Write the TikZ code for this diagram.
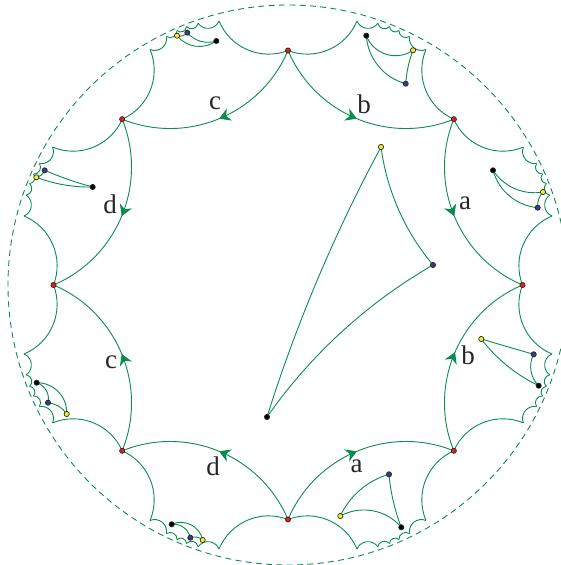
\documentclass[tikz,border=0pt]{standalone}
\usepackage{fontspec}
\setmainfont{Liberation Serif}
\usetikzlibrary{decorations.markings,arrows.meta}
\definecolor{geocol}{RGB}{10,140,80}
\definecolor{dotblue}{RGB}{52,62,140}
\definecolor{dotyellow}{RGB}{250,235,40}
\definecolor{dotred}{RGB}{235,25,40}
\tikzset{
  x=1pt,y=1pt,
  geoline/.style={draw=geocol,line width=0.9pt},
  dotbase/.style={circle,draw=black!85,line width=0.7pt,minimum size=5.2pt,inner sep=0pt},
  reddot/.style={dotbase,fill=dotred},
  blackdot/.style={dotbase,fill=black},
  bluedot/.style={dotbase,fill=dotblue},
  yellowdot/.style={dotbase,fill=dotyellow},
  lab/.style={font=\fontsize{27}{27}\selectfont,text=black!85,inner sep=0pt},
  headat/.style={postaction={decorate},decoration={markings,mark=at position #1 with {\arrow{Stealth[length=11pt,width=13pt,inset=3.5pt,fill=geocol,color=geocol]}}}},
}
% geodesic of the disk (centre 288,280, radius 280) from node #2 to node #3
\newcommand\geo[3][]{%
  \pgfpointanchor{#2}{center}\pgfgetlastxy\gxa\gya
  \pgfpointanchor{#3}{center}\pgfgetlastxy\gxb\gyb
  \pgfmathsetmacro\gpx{(\gxa-288)/280}%
  \pgfmathsetmacro\gpy{(\gya-280)/280}%
  \pgfmathsetmacro\gqx{(\gxb-288)/280}%
  \pgfmathsetmacro\gqy{(\gyb-280)/280}%
  \pgfmathsetmacro\gth{atan2(-(\gpx*\gqy-\gpy*\gqx),1-(\gpx*\gqx+\gpy*\gqy))}%
  \pgfmathsetmacro\gloose{0.8514/(cos(\gth/2)^2)}%
  \draw[geoline,#1] (#2.center) to[bend right=\gth,looseness=\gloose] (#3.center);%
}
\begin{document}
\begin{tikzpicture}
\useasboundingbox (0,0) rectangle (561,565);
\clip (0,0) rectangle (561,565);
\coordinate (ctr) at (288,280);
\draw[geoline,dash pattern=on 6pt off 4.3pt] (ctr) circle[radius=280];
\foreach \k in {0,...,7}{
  \pgfmathsetmacro\ra{90-45*\k}
  \coordinate (v\k) at ([shift={(ctr)}]\ra:234.5);
  \pgfmathsetmacro\ba{67.5-45*\k}
  \foreach \j/\da/\rr in {1/7.86/272.9,2/3.56/276.75,3/1.06/277.65,4/-1.06/277.65,5/-3.56/276.75,6/-7.86/272.9}{
    \pgfmathsetmacro\aa{\ba+\da}
    \coordinate (o\k-\j) at ([shift={(ctr)}]\aa:\rr);
  }
}
% outer scallops
\foreach \k [evaluate=\k as \n using {int(mod(\k+1,8))}] in {0,...,7}{
  \geo{v\k}{o\k-1}
  \geo{o\k-1}{o\k-2}
  \geo{o\k-2}{o\k-3}
  \geo{o\k-3}{o\k-4}
  \geo{o\k-4}{o\k-5}
  \geo{o\k-5}{o\k-6}
  \geo{o\k-6}{v\n}
}
% octagon sides with arrowheads
\geo[headat=0.5]{v0}{v1}
\geo[headat=0.5]{v1}{v2}
\geo[headat=0.51]{v3}{v2}
\geo[headat=0.5]{v4}{v3}
\geo[headat=0.5]{v4}{v5}
\geo[headat=0.5]{v5}{v6}
\geo[headat=0.5]{v7}{v6}
\geo[headat=0.5]{v0}{v7}
% triangles
\foreach \t/\bx/\by/\yx/\yy/\ux/\uy in {
  m/267/417/381/147/433/265,
  p/366.3/35.7/413/50.3/405.7/83.7,
  q/493/170.3/543/192/537.7/207.7,
  s/538.7/385.7/481.3/339/533.7/354.3,
  u/401.3/527.3/340.3/516/389/474.3,
  w/171.7/524.3/202.7/540/190.3/537.7,
  f/36.7/382.7/66.7/414/48/402.7,
  g/92.7/187/36.3/177.3/44.7/170.3,
  h/216.3/41/177/35.7/187.3/32.7}{
  \pgfmathsetmacro\tby{565-\by}
  \pgfmathsetmacro\tyy{565-\yy}
  \pgfmathsetmacro\tuy{565-\uy}
  \coordinate (\t k) at (\bx,\tby);
  \coordinate (\t y) at (\yx,\tyy);
  \coordinate (\t b) at (\ux,\tuy);
  \geo{\t k}{\t y}
  \geo{\t y}{\t b}
  \geo{\t k}{\t b}
  \node[blackdot] at (\t k) {};
  \node[yellowdot] at (\t y) {};
  \node[bluedot] at (\t b) {};
}
\foreach \k in {0,...,7}{ \node[reddot] at (v\k) {}; }
\node[lab] (la1) at (465,362) {a};
\node[lab] (lb1) at (364,460.5) {b};
\node[lab] (lc1) at (215,462) {c};
\node[lab] (ld1) at (110,361) {d};
\node[lab] (lc2) at (111,203) {c};
\node[lab] (ld2) at (213,99) {d};
\node[lab] (la2) at (356.7,99) {a};
\node[lab] (lb2) at (468,210) {b};
\end{tikzpicture}
\end{document}
